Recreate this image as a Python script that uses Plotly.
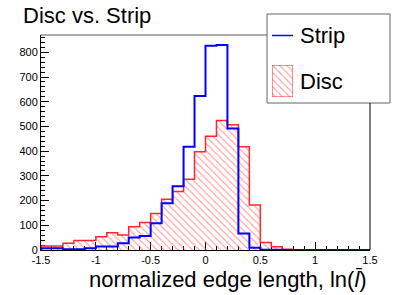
import numpy as np
import plotly.graph_objects as go

# ---- data (30 bins of width 0.1 from -1.5 to 1.5) ----
bin_lo, bin_hi, n_bins = -1.5, 1.5, 30
strip = [7, 7, 3, 3, 7, 14, 14, 27, 51, 57, 108, 189, 258, 418, 623,
         827, 830, 492, 67, 9, 1, 1, 0, 0, 0, 0, 0, 0, 0, 0]
disc = [16, 16, 27, 38, 38, 54, 70, 61, 94, 111, 148, 205, 237, 286, 398,
        460, 524, 507, 418, 182, 30, 13, 3, 1, 1, 0, 0, 0, 0, 0]
x_tickvals = [-1.5, -1, -0.5, 0, 0.5, 1, 1.5]
x_ticktext = ["-1.5", "-1", "-0.5", "0", "0.5", "1", "1.5"]
y_tickvals = [0, 100, 200, 300, 400, 500, 600, 700, 800]
y_ticktext = [str(v) for v in y_tickvals]

edges = np.round(np.linspace(bin_lo, bin_hi, n_bins + 1), 3)
centers = (edges[:-1] + edges[1:]) / 2
width = edges[1] - edges[0]

def step(vals):
    xs = [edges[0]] + list(edges)
    ys = [0] + list(vals) + [vals[-1]]
    return xs, ys

RED = "rgb(255,40,40)"
HATCH = "rgb(255,80,80)"
BLUE = "rgb(0,0,255)"
FONT = "Liberation Sans, Arial, Helvetica, sans-serif"

fig = go.Figure()
fig.add_trace(go.Bar(
    x=centers, y=disc, width=width, showlegend=False,
    marker=dict(color="rgba(255,255,255,0)", line=dict(width=0),
                pattern=dict(shape="\\", size=5, solidity=0.25,
                             fgcolor=HATCH, bgcolor="rgba(255,255,255,0)")),
    hoverinfo="skip"))
sx, sy = step(disc)
fig.add_trace(go.Scatter(x=sx, y=sy, mode="lines", line=dict(color=RED, width=1.5, shape="hv"),
                         showlegend=False, cliponaxis=False))
sx, sy = step(strip)
fig.add_trace(go.Scatter(x=sx, y=sy, mode="lines", line=dict(color=BLUE, width=2, shape="hv"),
                         showlegend=False, cliponaxis=False))

# legend swatch for Disc (inset axes)
fig.add_trace(go.Bar(
    x=[0], y=[1], width=1, xaxis="x2", yaxis="y2", showlegend=False,
    marker=dict(color="rgba(255,255,255,0)", line=dict(color=RED, width=1),
                pattern=dict(shape="\\", size=5, solidity=0.25,
                             fgcolor=HATCH, bgcolor="white"))))

L, R, T, B = 41, 41, 35, 45
W, H = 411, 295
pw, ph = W - L - R, H - T - B
def px(x):
    return (x - L) / pw
def py(y):
    return (H - B - y) / ph

leg_x0, leg_x1, leg_y0, leg_y1 = 267, 390, 14, 103

fig.update_layout(
    width=W, height=H, margin=dict(l=L, r=R, t=T, b=B),
    paper_bgcolor="white", plot_bgcolor="white", bargap=0,
    font=dict(family=FONT, color="black"),
    xaxis=dict(range=[bin_lo, bin_hi], tickvals=x_tickvals, ticktext=x_ticktext,
               ticks="inside", ticklen=8, tickcolor="black", tickwidth=1,
               minor=dict(dtick=0.1, ticks="inside", ticklen=4, tickcolor="black"),
               showgrid=False, zeroline=False, showline=True, linecolor="black",
               linewidth=1, tickfont=dict(size=11), layer="below traces", fixedrange=True),
    yaxis=dict(range=[0, 870], tickvals=y_tickvals, ticktext=y_ticktext,
               ticks="inside", ticklen=8, tickcolor="black", tickwidth=1,
               minor=dict(dtick=20, ticks="inside", ticklen=4, tickcolor="black"),
               showgrid=False, zeroline=False, showline=True, linecolor="black",
               linewidth=1, tickfont=dict(size=11), layer="below traces", fixedrange=True),
    xaxis2=dict(domain=[px(272), px(293)], anchor="y2", range=[-0.5, 0.5], visible=False),
    yaxis2=dict(domain=[py(97), py(65)], anchor="x2", range=[0, 1], visible=False),
    shapes=[
        dict(type="line", xref="paper", yref="paper", x0=0, x1=px(leg_x0), y0=1, y1=1,
             line=dict(color="rgb(90,90,90)", width=1)),
        dict(type="line", xref="paper", yref="paper", x0=1, x1=1, y0=0, y1=py(leg_y1),
             line=dict(color="black", width=1)),
        dict(type="rect", xref="paper", yref="paper", x0=px(leg_x0), x1=px(leg_x1),
             y0=py(leg_y1), y1=py(leg_y0), fillcolor="white",
             line=dict(color="rgb(100,100,100)", width=1), layer="below"),
        dict(type="line", xref="paper", yref="paper", x0=px(272), x1=px(293),
             y0=py(35.5), y1=py(35.5), line=dict(color=BLUE, width=1.5)),
    ],
    annotations=[
        dict(text="Disc vs. Strip", xref="paper", yref="paper", x=px(21), y=py(15),
             xanchor="left", yanchor="middle", showarrow=False, font=dict(size=22)),
        dict(text="Strip", xref="paper", yref="paper", x=px(298), y=py(35),
             xanchor="left", yanchor="middle", showarrow=False, font=dict(size=22)),
        dict(text="Disc", xref="paper", yref="paper", x=px(298), y=py(81),
             xanchor="left", yanchor="middle", showarrow=False, font=dict(size=22)),
        dict(text="normalized edge length, ln(<i>l\u0304</i>)", xref="paper", yref="paper",
             x=px(369), y=py(279), xanchor="right", yanchor="middle", showarrow=False,
             font=dict(size=22)),
    ],
)

fig.write_html("out.html", config={"displayModeBar": False, "staticPlot": True})
with open("out.html", "r", encoding="utf-8") as f:
    html = f.read()
html = html.replace("<body>", '<body style="margin:0;padding:0;overflow:hidden">', 1)
html = html.replace("<head>", "<head><style>html,body{margin:0;padding:0;}</style>", 1)
with open("out.html", "w", encoding="utf-8") as f:
    f.write(html)
